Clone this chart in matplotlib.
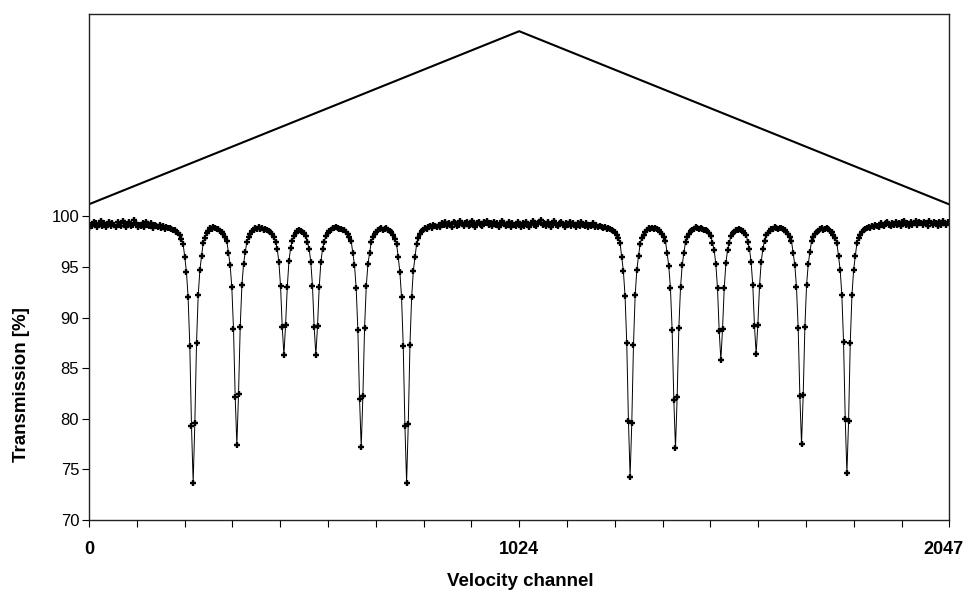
import numpy as np
import matplotlib
matplotlib.use("Agg")
import matplotlib.pyplot as plt
import matplotlib.transforms as mtransforms
from matplotlib.ticker import FixedLocator, MultipleLocator

# transmission [%], one value every 4 channels (0..2044)
channel_step = 4
transmission = [
    98.9, 99.2, 99.1, 99.4, 99.3, 99.0, 99.2, 99.5, 99.1, 99.3, 99.0, 99.2, 99.4, 99.1, 99.3, 99.2,
    99.0, 99.4, 99.2, 99.1, 99.5, 99.3, 99.0, 99.2, 99.4, 99.1, 99.2, 99.6, 99.3, 99.0, 99.2, 99.1,
    99.3, 99.0, 99.4, 99.2, 99.1, 99.3, 98.9, 99.2, 99.1, 99.0, 99.2, 98.9, 99.1, 98.8, 99.0, 98.9,
    98.9, 98.8, 98.7, 98.7, 98.5, 98.4, 98.2, 97.8, 97.3, 96.0, 94.5, 92.0, 87.2, 79.3, 73.7, 79.6,
    87.5, 92.2, 94.7, 96.1, 97.4, 97.9, 98.4, 98.6, 98.9, 98.8, 99.0, 98.9, 98.8, 98.8, 98.6, 98.5,
    98.3, 98.0, 97.6, 96.4, 95.2, 93.0, 88.9, 82.2, 77.4, 82.5, 89.1, 93.2, 95.3, 96.5, 97.5, 98.0,
    98.3, 98.6, 98.7, 98.9, 98.8, 99.0, 98.8, 98.9, 98.7, 98.8, 98.7, 98.6, 98.5, 98.3, 98.0, 97.5,
    96.8, 95.5, 93.1, 89.1, 86.3, 89.3, 93.0, 95.6, 96.9, 97.6, 98.1, 98.4, 98.6, 98.7, 98.6, 98.5,
    98.4, 98.1, 97.5, 96.8, 95.5, 93.1, 89.1, 86.3, 89.2, 93.0, 95.5, 96.8, 97.5, 98.1, 98.4, 98.6,
    98.7, 98.9, 98.9, 99.0, 98.9, 98.8, 98.8, 98.7, 98.7, 98.5, 98.3, 98.0, 97.6, 96.4, 95.2, 92.9,
    88.8, 82.0, 77.2, 82.3, 89.0, 93.1, 95.3, 96.4, 97.5, 98.0, 98.3, 98.5, 98.7, 98.8, 98.9, 98.7,
    98.8, 98.9, 98.7, 98.6, 98.5, 98.2, 97.8, 97.3, 96.0, 94.5, 92.0, 87.2, 79.3, 73.7, 79.5, 87.3,
    92.0, 94.6, 96.0, 97.3, 97.9, 98.3, 98.6, 98.7, 98.9, 98.8, 99.0, 99.1, 98.9, 99.2, 99.1, 99.0,
    99.2, 99.0, 99.3, 99.2, 99.4, 99.1, 99.3, 99.2, 99.0, 99.4, 99.3, 99.1, 99.2, 99.5, 99.3, 99.1,
    99.3, 99.4, 99.1, 99.2, 99.5, 99.3, 99.0, 99.3, 99.4, 99.2, 99.1, 99.4, 99.3, 99.5, 99.2, 99.3,
    99.1, 99.4, 99.2, 99.3, 99.0, 99.2, 99.5, 99.3, 99.1, 99.2, 99.4, 99.0, 99.3, 99.2, 99.1, 99.4,
    99.2, 99.0, 99.3, 99.1, 99.4, 99.2, 99.0, 99.3, 99.5, 99.2, 99.1, 99.3, 99.4, 99.6, 99.2, 99.3,
    99.1, 99.4, 99.2, 99.0, 99.3, 99.5, 99.2, 99.1, 99.3, 99.4, 99.2, 99.0, 99.3, 99.2, 99.4, 99.1,
    99.3, 99.2, 99.0, 99.3, 99.1, 99.4, 99.2, 99.1, 99.3, 99.0, 99.2, 99.1, 99.3, 99.0, 99.2, 99.0,
    99.1, 99.0, 98.9, 99.0, 98.8, 98.9, 98.8, 98.7, 98.6, 98.5, 98.2, 97.9, 97.4, 96.0, 94.6, 92.1,
    87.5, 79.8, 74.3, 79.6, 87.3, 92.2, 94.7, 96.1, 97.3, 97.9, 98.2, 98.5, 98.7, 98.9, 98.8, 98.9,
    98.8, 98.9, 98.8, 98.7, 98.5, 98.3, 98.0, 97.6, 96.4, 95.1, 92.9, 88.8, 81.9, 77.1, 82.2, 89.0,
    93.0, 95.2, 96.4, 97.5, 98.0, 98.3, 98.6, 98.7, 98.8, 99.0, 98.9, 98.8, 98.9, 98.8, 98.7, 98.7,
    98.6, 98.4, 98.1, 97.4, 96.7, 95.3, 92.9, 88.7, 85.8, 88.9, 92.9, 95.4, 96.7, 97.4, 98.1, 98.4,
    98.5, 98.7, 98.7, 98.8, 98.7, 98.6, 98.4, 98.2, 97.5, 96.8, 95.5, 93.2, 89.2, 86.4, 89.3, 93.1,
    95.5, 96.8, 97.6, 98.2, 98.4, 98.6, 98.8, 98.8, 99.0, 98.9, 98.8, 98.9, 98.9, 98.8, 98.7, 98.5,
    98.3, 98.0, 97.6, 96.4, 95.2, 93.0, 89.0, 82.3, 77.5, 82.4, 89.1, 93.2, 95.3, 96.5, 97.6, 98.0,
    98.3, 98.5, 98.6, 98.8, 98.9, 98.7, 98.8, 98.9, 98.8, 98.6, 98.5, 98.2, 97.9, 97.4, 96.1, 94.7,
    92.2, 87.6, 80.0, 74.6, 79.8, 87.5, 92.2, 94.7, 96.1, 97.4, 97.9, 98.2, 98.5, 98.7, 98.8, 98.9,
    99.0, 98.9, 99.1, 99.0, 99.2, 99.1, 99.0, 99.3, 99.2, 99.1, 99.3, 99.4, 99.2, 99.1, 99.3, 99.2,
    99.4, 99.2, 99.3, 99.1, 99.4, 99.5, 99.2, 99.3, 99.1, 99.4, 99.2, 99.3, 99.5, 99.2, 99.4, 99.3,
    99.2, 99.4, 99.3, 99.1, 99.5, 99.3, 99.2, 99.4, 99.3, 99.1, 99.4, 99.2, 99.5, 99.3, 99.2, 99.4,
]
channel = np.arange(len(transmission)) * channel_step

# velocity drive reference (triangle), drawn on the same y scale
velocity_ch = [0, 1024, 2047]
velocity_level = [101.2, 118.3, 101.2]

yticks = [70, 75, 80, 85, 90, 95, 100]
xticks = [0, 1024, 2047]

narrow = ['Liberation Sans Narrow', 'Liberation Sans', 'DejaVu Sans']
plain = ['Liberation Sans', 'DejaVu Sans']

fig = plt.figure(figsize=(9.66, 5.91), dpi=100)
ax = fig.add_axes([0.0921, 0.1201, 0.8903, 0.8562])

ax.plot(velocity_ch, velocity_level, color='black', lw=1.5)
ax.plot(channel, transmission, color='black', lw=0.7, marker='+',
        ms=5, mew=1.7, mec='black')

ax.set_xlim(0, 2047)
ax.set_ylim(70, 120)

ax.yaxis.set_major_locator(FixedLocator(yticks))
ax.set_yticklabels([str(t) for t in yticks], family=plain, fontsize=12)
ax.xaxis.set_major_locator(FixedLocator(xticks))
ax.xaxis.set_minor_locator(MultipleLocator(1024 / 9))
ax.set_xticklabels([str(t) for t in xticks], family=narrow,
                   fontsize=13, fontweight='bold')
ax.tick_params(axis='x', which='both', direction='out', length=5, width=0.8, pad=10)
ax.tick_params(axis='y', direction='out', length=5, width=0.8, pad=2)

# last label sits right at the figure edge; nudge it in a little
last = ax.get_xticklabels()[-1]
last.set_transform(last.get_transform() +
                   mtransforms.ScaledTranslation(-6 / 100, 0, fig.dpi_scale_trans))

for s in ax.spines.values():
    s.set_linewidth(1.0)
    s.set_color('#222222')

fig.text(520 / 966, 1 - 582 / 591, 'Velocity channel', ha='center', va='center',
         family=narrow, fontsize=13.5, fontweight='bold')
fig.text(22 / 966, 1 - 385 / 591, 'Transmission [%]', ha='center', va='center',
         rotation=90, family=plain, fontsize=13.5, fontweight='bold')

fig.savefig('out.png', dpi=100)
